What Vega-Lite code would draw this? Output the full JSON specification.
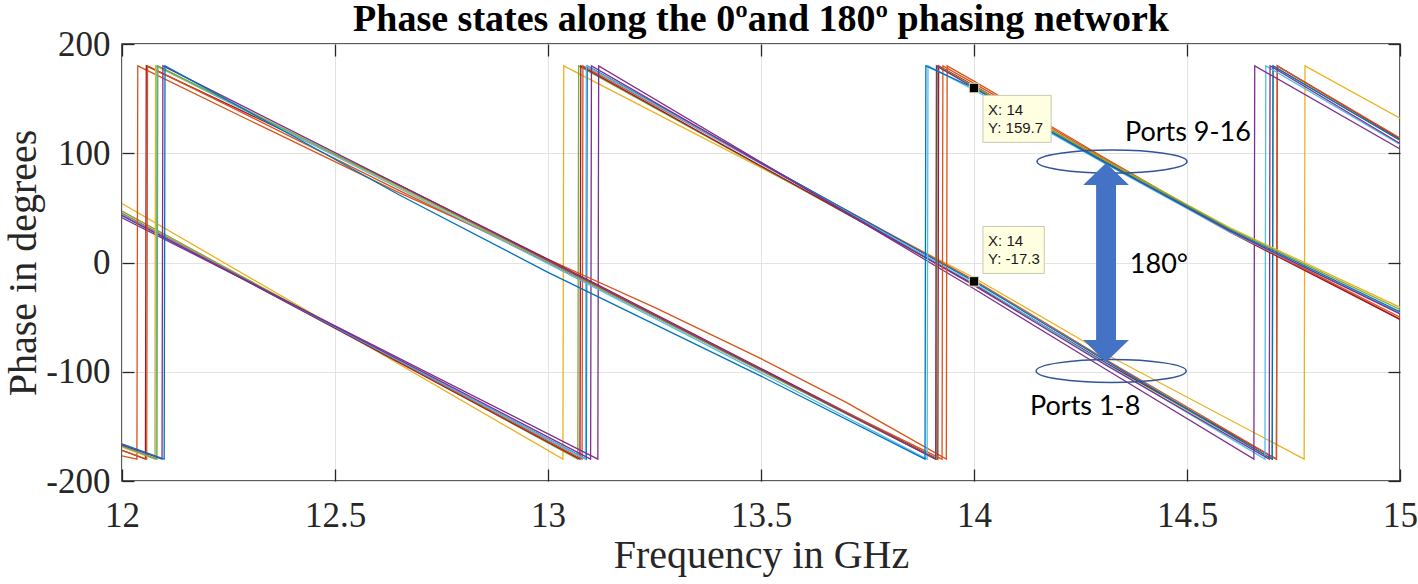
{
  "$schema": "https://vega.github.io/schema/vega-lite/v6.json",
  "autosize": "none",
  "width": 1278,
  "height": 437,
  "padding": {"left": 122, "top": 44, "right": 18, "bottom": 103},
  "background": "white",
  "view": {"stroke": "#262626", "strokeWidth": 1.5},
  "title": {
    "text": "Phase states along the 0ºand 180º phasing network",
    "font": "Liberation Serif",
    "fontSize": 38,
    "fontWeight": "bold",
    "color": "#000000",
    "anchor": "middle",
    "baseline": "alphabetic",
    "offset": -42
  },
  "datasets": {
    "lines": [
      {"s":"A1","f":12,"p":54},{"s":"A1","f":13.035,"p":-180},{"s":"A1","f":13.037,"p":180},{"s":"A1","f":14,"p":-14},{"s":"A1","f":14.31,"p":-84},{"s":"A1","f":14.775,"p":-180},{"s":"A1","f":14.777,"p":180},{"s":"A1","f":15,"p":132},
      {"s":"A2","f":12,"p":47},{"s":"A2","f":13.07,"p":-180},{"s":"A2","f":13.072,"p":180},{"s":"A2","f":14,"p":-20},{"s":"A2","f":14.31,"p":-92},{"s":"A2","f":14.7,"p":-180},{"s":"A2","f":14.702,"p":180},{"s":"A2","f":15,"p":112},
      {"s":"A3","f":12,"p":44},{"s":"A3","f":13.075,"p":-180},{"s":"A3","f":13.077,"p":180},{"s":"A3","f":14,"p":-20},{"s":"A3","f":14.31,"p":-92},{"s":"A3","f":14.71,"p":-180},{"s":"A3","f":14.712,"p":180},{"s":"A3","f":15,"p":113},
      {"s":"A4","f":12,"p":45},{"s":"A4","f":13.08,"p":-180},{"s":"A4","f":13.082,"p":180},{"s":"A4","f":14,"p":-16},{"s":"A4","f":14.31,"p":-89},{"s":"A4","f":14.71,"p":-180},{"s":"A4","f":14.712,"p":180},{"s":"A4","f":15,"p":114},
      {"s":"A5","f":12,"p":43},{"s":"A5","f":13.09,"p":-180},{"s":"A5","f":13.092,"p":180},{"s":"A5","f":14,"p":-17.3},{"s":"A5","f":14.31,"p":-90},{"s":"A5","f":14.7,"p":-180},{"s":"A5","f":14.702,"p":180},{"s":"A5","f":15,"p":112},
      {"s":"A6","f":12,"p":44},{"s":"A6","f":13.088,"p":-180},{"s":"A6","f":13.09,"p":180},{"s":"A6","f":14,"p":-19},{"s":"A6","f":14.31,"p":-93},{"s":"A6","f":14.683,"p":-180},{"s":"A6","f":14.685,"p":180},{"s":"A6","f":15,"p":108},
      {"s":"A7","f":12,"p":41},{"s":"A7","f":13.117,"p":-180},{"s":"A7","f":13.119,"p":180},{"s":"A7","f":14,"p":-24},{"s":"A7","f":14.31,"p":-98},{"s":"A7","f":14.657,"p":-180},{"s":"A7","f":14.659,"p":180},{"s":"A7","f":15,"p":104},
      {"s":"A8","f":12,"p":43},{"s":"A8","f":13.1,"p":-180},{"s":"A8","f":13.102,"p":180},{"s":"A8","f":14,"p":-21},{"s":"A8","f":14.31,"p":-94},{"s":"A8","f":14.693,"p":-180},{"s":"A8","f":14.695,"p":180},{"s":"A8","f":15,"p":109},
      {"s":"B1","f":12,"p":-177},{"s":"B1","f":12.035,"p":-180},{"s":"B1","f":12.037,"p":180},{"s":"B1","f":12.3,"p":130},{"s":"B1","f":12.65,"p":64},{"s":"B1","f":13,"p":3},{"s":"B1","f":13.25,"p":-41},{"s":"B1","f":13.5,"p":-88},{"s":"B1","f":13.7,"p":-128},{"s":"B1","f":13.935,"p":-180},{"s":"B1","f":13.937,"p":180},{"s":"B1","f":14,"p":166},{"s":"B1","f":14.31,"p":95},{"s":"B1","f":14.6,"p":30},{"s":"B1","f":15,"p":-52},
      {"s":"B2","f":12,"p":-172},{"s":"B2","f":12.055,"p":-180},{"s":"B2","f":12.057,"p":180},{"s":"B2","f":12.65,"p":71},{"s":"B2","f":13,"p":3},{"s":"B2","f":13.5,"p":-97},{"s":"B2","f":13.915,"p":-180},{"s":"B2","f":13.917,"p":180},{"s":"B2","f":14,"p":162},{"s":"B2","f":14.31,"p":92},{"s":"B2","f":14.6,"p":28},{"s":"B2","f":15,"p":-52},
      {"s":"B3","f":12,"p":-172},{"s":"B3","f":12.058,"p":-180},{"s":"B3","f":12.06,"p":180},{"s":"B3","f":12.65,"p":66},{"s":"B3","f":13,"p":0},{"s":"B3","f":13.5,"p":-99},{"s":"B3","f":13.925,"p":-180},{"s":"B3","f":13.927,"p":180},{"s":"B3","f":14,"p":164},{"s":"B3","f":14.31,"p":94},{"s":"B3","f":14.6,"p":29},{"s":"B3","f":15,"p":-50},
      {"s":"B4","f":12,"p":-169},{"s":"B4","f":12.077,"p":-180},{"s":"B4","f":12.079,"p":180},{"s":"B4","f":12.65,"p":69},{"s":"B4","f":13,"p":1},{"s":"B4","f":13.5,"p":-99},{"s":"B4","f":13.91,"p":-180},{"s":"B4","f":13.912,"p":180},{"s":"B4","f":14,"p":161},{"s":"B4","f":14.31,"p":93},{"s":"B4","f":14.6,"p":32},{"s":"B4","f":15,"p":-41},
      {"s":"B5","f":12,"p":-168},{"s":"B5","f":12.08,"p":-180},{"s":"B5","f":12.082,"p":180},{"s":"B5","f":12.65,"p":68},{"s":"B5","f":13,"p":-1},{"s":"B5","f":13.5,"p":-101},{"s":"B5","f":13.89,"p":-180},{"s":"B5","f":13.892,"p":180},{"s":"B5","f":14,"p":158},{"s":"B5","f":14.31,"p":90},{"s":"B5","f":14.6,"p":28},{"s":"B5","f":15,"p":-46},
      {"s":"B6","f":12,"p":-168},{"s":"B6","f":12.082,"p":-180},{"s":"B6","f":12.084,"p":180},{"s":"B6","f":12.65,"p":70},{"s":"B6","f":13,"p":1},{"s":"B6","f":13.5,"p":-99},{"s":"B6","f":13.912,"p":-180},{"s":"B6","f":13.914,"p":180},{"s":"B6","f":14,"p":161},{"s":"B6","f":14.31,"p":93},{"s":"B6","f":14.6,"p":31},{"s":"B6","f":15,"p":-43},
      {"s":"B7","f":12,"p":-167},{"s":"B7","f":12.094,"p":-180},{"s":"B7","f":12.096,"p":180},{"s":"B7","f":12.65,"p":71},{"s":"B7","f":13,"p":2},{"s":"B7","f":13.5,"p":-98},{"s":"B7","f":13.91,"p":-180},{"s":"B7","f":13.912,"p":180},{"s":"B7","f":14,"p":160},{"s":"B7","f":14.31,"p":91},{"s":"B7","f":14.6,"p":29},{"s":"B7","f":15,"p":-47},
      {"s":"B8","f":12,"p":-166},{"s":"B8","f":12.099,"p":-180},{"s":"B8","f":12.101,"p":180},{"s":"B8","f":12.4,"p":116},{"s":"B8","f":12.65,"p":62},{"s":"B8","f":13,"p":-9},{"s":"B8","f":13.5,"p":-104},{"s":"B8","f":13.885,"p":-180},{"s":"B8","f":13.887,"p":180},{"s":"B8","f":14,"p":159.7},{"s":"B8","f":14.31,"p":91},{"s":"B8","f":14.6,"p":30},{"s":"B8","f":15,"p":-45}
    ],
    "boxes": [
      {"x1": 14.021, "x2": 14.181, "y1": 153, "y2": 110},
      {"x1": 14.021, "x2": 14.165, "y1": 33, "y2": -10}
    ],
    "tips": [
      {"x": 14.033, "y": 139.5, "t": "X: 14"},
      {"x": 14.033, "y": 123, "t": "Y: 159.7"},
      {"x": 14.033, "y": 19.5, "t": "X: 14"},
      {"x": 14.033, "y": 3, "t": "Y: -17.3"}
    ],
    "markers": [
      {"x": 14, "y": 159.7},
      {"x": 14, "y": -17.3}
    ],
    "ellipses": [
      {"x": 14.324, "y": 92.4},
      {"x": 14.322, "y": -99.3}
    ],
    "arrow": [
      {"x": 14.31, "y": 0}
    ],
    "labels": [
      {"x": 14.502, "y": 118.5, "t": "Ports 9-16"},
      {"x": 14.434, "y": -2.3, "t": "180°"},
      {"x": 14.261, "y": -132.3, "t": "Ports 1-8"}
    ]
  },
  "resolve": {"axis": {"x": "independent", "y": "independent"}},
  "layer": [
    {
      "data": {"name": "lines"},
      "mark": {"type": "line", "strokeWidth": 1.3, "clip": true},
      "encoding": {
        "x": {
          "field": "f", "type": "quantitative",
          "scale": {"domain": [12, 15], "nice": false, "zero": false},
          "axis": {
            "orient": "bottom",
            "values": [12, 12.5, 13, 13.5, 14, 14.5, 15],
            "labelExpr": "'' + datum.value",
            "labelFont": "Liberation Serif", "labelFontSize": 35, "labelColor": "#262626",
            "labelPadding": 29, "labelFlush": false, "labelOverlap": false,
            "tickSize": -12, "tickColor": "#262626", "tickWidth": 1.3,
            "grid": true, "gridColor": "#e3e3e3", "gridWidth": 1,
            "domain": false,
            "title": "Frequency in GHz",
            "titleFont": "Liberation Serif", "titleFontSize": 40, "titleFontWeight": "normal", "titleColor": "#262626",
            "titlePadding": 2
          }
        },
        "y": {
          "field": "p", "type": "quantitative",
          "scale": {"domain": [-200, 200], "nice": false, "zero": false},
          "axis": {
            "orient": "left",
            "values": [-200, -100, 0, 100, 200],
            "labelExpr": "'' + datum.value",
            "labelFont": "Liberation Serif", "labelFontSize": 35, "labelColor": "#262626",
            "labelPadding": 24, "labelFlush": false, "labelOverlap": false,
            "tickSize": -12, "tickColor": "#262626", "tickWidth": 1.3,
            "grid": true, "gridColor": "#e3e3e3", "gridWidth": 1,
            "domain": false,
            "title": "Phase in degrees",
            "titleFont": "Liberation Serif", "titleFontSize": 40, "titleFontWeight": "normal", "titleColor": "#262626",
            "titlePadding": 2
          }
        },
        "color": {
          "field": "s", "type": "nominal", "legend": null,
          "scale": {
            "domain": ["A1","A2","A3","A4","A5","A6","A7","A8","B1","B2","B3","B4","B5","B6","B7","B8"],
            "range": ["#EDB120","#77AC30","#A2142F","#D95319","#0072BD","#4DBEEE","#7E2F8E","#7E2F8E","#D95319","#A2142F","#D95319","#EDB120","#4DBEEE","#77AC30","#7E2F8E","#0072BD"]
          }
        }
      }
    },
    {
      "data": {"name": "boxes"},
      "mark": {"type": "rect", "fill": "#FFFFE1", "stroke": "#C8C8B0", "strokeWidth": 1},
      "encoding": {
        "x": {"field": "x1", "type": "quantitative", "axis": null},
        "x2": {"field": "x2"},
        "y": {"field": "y1", "type": "quantitative", "axis": null},
        "y2": {"field": "y2"}
      }
    },
    {
      "data": {"name": "tips"},
      "mark": {"type": "text", "font": "Liberation Sans", "fontSize": 15, "align": "left", "baseline": "middle", "color": "#1a1a1a"},
      "encoding": {
        "x": {"field": "x", "type": "quantitative", "axis": null},
        "y": {"field": "y", "type": "quantitative", "axis": null},
        "text": {"field": "t"}
      }
    },
    {
      "data": {"name": "markers"},
      "mark": {"type": "point", "shape": "square", "filled": true, "size": 90, "fill": "#000000", "stroke": "#E8E8C0", "strokeWidth": 1, "opacity": 1},
      "encoding": {
        "x": {
          "field": "x", "type": "quantitative",
          "axis": {"orient": "top", "labels": false, "grid": false, "domain": false, "title": null,
                   "values": [12, 12.5, 13, 13.5, 14, 14.5, 15],
                   "tickSize": -12, "tickColor": "#262626", "tickWidth": 1.3}
        },
        "y": {
          "field": "y", "type": "quantitative",
          "axis": {"orient": "right", "labels": false, "grid": false, "domain": false, "title": null,
                   "values": [-200, -100, 0, 100, 200],
                   "tickSize": -12, "tickColor": "#262626", "tickWidth": 1.3}
        }
      }
    },
    {
      "data": {"name": "ellipses"},
      "mark": {"type": "point", "shape": "M -1 0 C -1 -0.0845 -0.5523 -0.153 0 -0.153 C 0.5523 -0.153 1 -0.0845 1 0 C 1 0.0845 0.5523 0.153 0 0.153 C -0.5523 0.153 -1 0.0845 -1 0 Z", "filled": false, "size": 22500, "stroke": "#2F5597", "strokeWidth": 1.5, "opacity": 1},
      "encoding": {
        "x": {"field": "x", "type": "quantitative", "axis": null},
        "y": {"field": "y", "type": "quantitative", "axis": null}
      }
    },
    {
      "data": {"name": "arrow"},
      "mark": {"type": "point", "shape": "M 0 -1 L 0.23 -0.78 L 0.1 -0.78 L 0.1 0.78 L 0.23 0.78 L 0 1 L -0.23 0.78 L -0.1 0.78 L -0.1 -0.78 L -0.23 -0.78 Z", "filled": true, "size": 39600, "fill": "#4472C4", "strokeWidth": 0, "opacity": 1},
      "encoding": {
        "x": {"field": "x", "type": "quantitative", "axis": null},
        "y": {"field": "y", "type": "quantitative", "axis": null}
      }
    },
    {
      "data": {"name": "labels"},
      "mark": {"type": "text", "font": "Lato", "fontSize": 27, "align": "center", "baseline": "middle", "color": "#000000"},
      "encoding": {
        "x": {"field": "x", "type": "quantitative", "axis": null},
        "y": {"field": "y", "type": "quantitative", "axis": null},
        "text": {"field": "t"}
      }
    }
  ]
}
